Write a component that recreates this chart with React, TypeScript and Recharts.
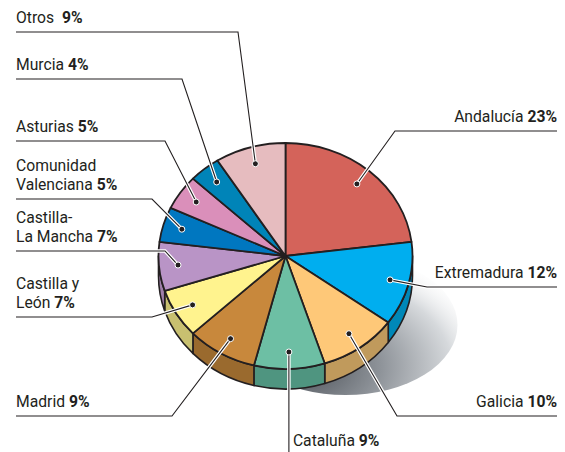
import { PieChart, Pie, Cell, Customized } from "recharts";

const regions = [
  "Andalucía",
  "Extremadura",
  "Galicia",
  "Cataluña",
  "Madrid",
  "Castilla y\nLeón",
  "Castilla-\nLa Mancha",
  "Comunidad\nValenciana",
  "Asturias",
  "Murcia",
  "Otros",
];
const shares = [23, 12, 10, 9, 9, 7, 7, 5, 5, 4, 9];

const topColors = ["#d4635a", "#00aeef", "#fec878", "#6dbfa4", "#c8883c", "#fff38e", "#b994c6", "#0077c0", "#da8fba", "#0084b8", "#e6bcbf"];
const sideColors = ["#a84a43", "#0088b8", "#c09a5c", "#4f9580", "#9a6a2e", "#c8c070", "#9f7faa", "#005a94", "#b06e94", "#006690", "#b89496"];

// leader line layout: which side, y of the horizontal rule, x of the elbow
const labelSpots = [
  { side: "R", lineY: 131, elbowX: 395 },
  { side: "R", lineY: 287, elbowX: 427 },
  { side: "R", lineY: 416, elbowX: 397 },
  { side: "B", lineY: 452, elbowX: 0 },
  { side: "L", lineY: 416, elbowX: 172 },
  { side: "L", lineY: 317, elbowX: 152 },
  { side: "L", lineY: 251, elbowX: 165 },
  { side: "L", lineY: 199, elbowX: 152 },
  { side: "L", lineY: 141, elbowX: 165 },
  { side: "L", lineY: 79, elbowX: 182 },
  { side: "L", lineY: 32, elbowX: 238 },
];

const data = regions.map((name, i) => ({ name, value: shares[i] }));

const CX = 285.5;
const CY = 256;
const R = 127;
const SQUASH = 113 / 127;
const DEPTH = 20;
const INK = "#231f20";
const RAD = Math.PI / 180;

const pt = (cx: number, cy: number, r: number, a: number) => [cx + r * Math.cos(a * RAD), cy - r * SQUASH * Math.sin(a * RAD)];

function renderSlice(props: any) {
  const { cx, cy, outerRadius, startAngle, endAngle, fill } = props;
  const name = props.payload?.name ?? props.name;
  const idx = regions.indexOf(name);
  const r = outerRadius;
  const ry = r * SQUASH;
  const [x1, y1] = pt(cx, cy, r, startAngle);
  const [x2, y2] = pt(cx, cy, r, endAngle);
  const large = Math.abs(startAngle - endAngle) > 180 ? 1 : 0;
  const top = `M${cx},${cy} L${x1},${y1} A${r},${ry} 0 ${large} 1 ${x2},${y2} Z`;

  // side wall for the part of the arc that faces the viewer
  const hi = Math.min(startAngle, 0);
  const lo = Math.max(endAngle, -180);
  let side = null;
  if (hi > lo) {
    const [a1, b1] = pt(cx, cy, r, hi);
    const [a2, b2] = pt(cx, cy, r, lo);
    const d = `M${a1},${b1} A${r},${ry} 0 0 1 ${a2},${b2} L${a2},${b2 + DEPTH} A${r},${ry} 0 0 0 ${a1},${b1 + DEPTH} Z`;
    side = <path d={d} fill={sideColors[idx]} stroke={INK} strokeWidth={1.6} strokeLinejoin="round" />;
  }
  return (
    <g>
      {side}
      <path d={top} fill={fill} stroke={INK} strokeWidth={1.8} strokeLinejoin="round" />
    </g>
  );
}

function renderLabel(props: any) {
  const { cx, cy, midAngle, outerRadius, index } = props;
  const spot = labelSpots[index];
  const [dx, dy] = pt(cx, cy, outerRadius * 0.85, midAngle);
  const lines = regions[index].split("\n");
  const pct = `${shares[index]}%`;
  let pts: number[][];
  let tx: number;
  let anchor: "start" | "end" = "start";
  let base: number;
  if (spot.side === "L") {
    pts = [[dx, dy], [spot.elbowX, spot.lineY], [16, spot.lineY]];
    tx = 16;
    base = spot.lineY - 9;
  } else if (spot.side === "R") {
    pts = [[dx, dy], [spot.elbowX, spot.lineY], [557, spot.lineY]];
    tx = 557;
    anchor = "end";
    base = spot.lineY - 9;
  } else {
    pts = [[dx, dy], [dx, spot.lineY]];
    tx = dx + 4;
    base = 446;
  }
  const p = pts.map((q) => q.join(",")).join(" ");
  return (
    <g key={`lbl-${index}`}>
      <polyline points={p} fill="none" stroke="#fff" strokeWidth={3.5} />
      <polyline points={p} fill="none" stroke={INK} strokeWidth={1.1} />
      <circle cx={dx} cy={dy} r={3} fill={INK} stroke="#fff" strokeWidth={1} />
      {lines.map((ln, k) => (
        <text
          key={k}
          x={tx}
          y={base - (lines.length - 1 - k) * 19.5}
          textAnchor={anchor}
          fontFamily="Roboto, sans-serif"
          fontSize={15.7}
          fill={INK}
        >
          {ln}
          {k === lines.length - 1 && (
            <tspan fontWeight="bold">{(index === 10 ? "\u00a0 " : " ") + pct}</tspan>
          )}
        </text>
      ))}
    </g>
  );
}

function Shadow() {
  return (
    <g>
      <defs>
        <radialGradient id="pieShadow" cx="0.3" cy="0.8" r="0.9">
          <stop offset="0" stopColor="#4a4f56" />
          <stop offset="0.4" stopColor="#8f949a" />
          <stop offset="0.75" stopColor="#d6d9dc" />
          <stop offset="1" stopColor="#ffffff" stopOpacity={0} />
        </radialGradient>
      </defs>
      <ellipse cx={CX + 60} cy={CY + 69} rx={112} ry={70} fill="url(#pieShadow)" />
    </g>
  );
}

export default function App() {
  return (
    <div style={{ position: "absolute", left: 0, top: 0, width: 565, height: 452, background: "#fff" }}>
      <PieChart width={565} height={452} margin={{ top: 0, right: 0, bottom: 0, left: 0 }}>
        <Customized component={Shadow} />
        <Pie
          data={data}
          dataKey="value"
          nameKey="name"
          cx={CX}
          cy={CY}
          outerRadius={R}
          startAngle={90}
          endAngle={-270}
          shape={renderSlice}
          label={renderLabel}
          labelLine={false}
          isAnimationActive={false}
        >
          {data.map((d, i) => (
            <Cell key={d.name} fill={topColors[i]} />
          ))}
        </Pie>
      </PieChart>
    </div>
  );
}
